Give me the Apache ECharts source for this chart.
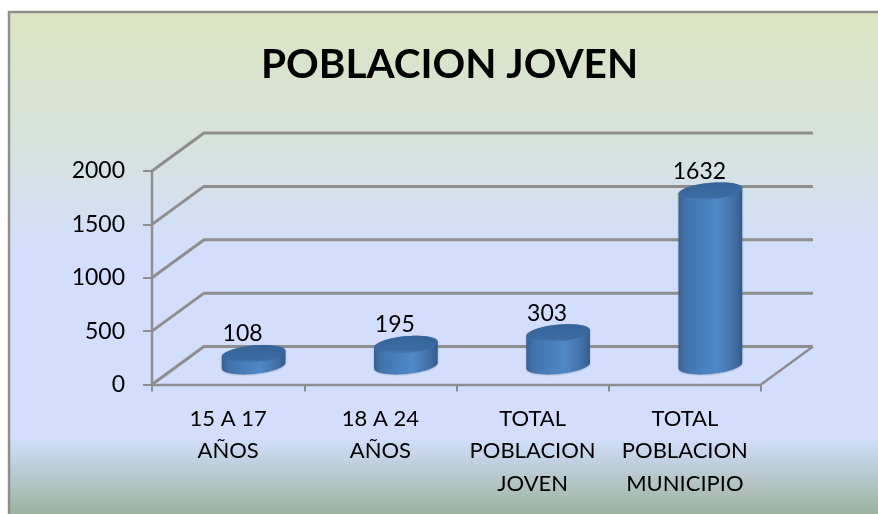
<!DOCTYPE html>
<html>
<head>
<meta charset="utf-8">
<style>html,body{margin:0;padding:0;background:#fff;overflow:hidden}#c{width:878px;height:514px}</style>
<script src="https://cdn.jsdelivr.net/npm/echarts@6/dist/echarts.min.js"></script>
</head>
<body>
<div id="c"></div>
<script>
const titleText = 'POBLACION JOVEN';
const categories = ['15 A 17\nAÑOS', '18 A 24\nAÑOS', 'TOTAL\nPOBLACION\nJOVEN', 'TOTAL\nPOBLACION\nMUNICIPIO'];
const values = [108, 195, 303, 1632];
const yTicks = [0, 500, 1000, 1500, 2000];

const FONT = 'Lato, Carlito, Calibri, sans-serif';
const AXIS = '#8e8e8e';
const DX = 52, DY = -38;       // oblique depth of the 3-D box
const RX = 32, RY = 8.4, TILT = -5.5 * Math.PI / 180;

function ellipsePoint(cx, cy, t) {
  const ca = RX * Math.cos(t), sb = RY * Math.sin(t);
  return [cx + ca * Math.cos(TILT) - sb * Math.sin(TILT),
          cy + ca * Math.sin(TILT) + sb * Math.cos(TILT)];
}
function ellipsePoly(cx, cy) {
  const pts = [];
  for (let i = 0; i < 72; i++) pts.push(ellipsePoint(cx, cy, i / 72 * 2 * Math.PI));
  return pts;
}
function bodyPoly(cx, yTop, yBase) {
  const t0 = Math.atan2(-RY * Math.sin(TILT), RX * Math.cos(TILT));
  const pts = [];
  for (let i = 0; i <= 36; i++) pts.push(ellipsePoint(cx, yBase, t0 + i / 36 * Math.PI));
  for (let i = 0; i <= 36; i++) pts.push(ellipsePoint(cx, yTop, t0 + Math.PI + i / 36 * Math.PI));
  return pts;
}
const bodyFill = {
  type: 'linear', x: 0, y: 0, x2: 1, y2: 0,
  colorStops: [
    { offset: 0, color: '#365f92' },
    { offset: 0.12, color: '#4174ae' },
    { offset: 0.6, color: '#5089c8' },
    { offset: 0.88, color: '#406fa6' },
    { offset: 1, color: '#345b88' }
  ]
};
const topFill = {
  type: 'linear', x: 0, y: 0, x2: 0, y2: 1,
  colorStops: [
    { offset: 0, color: '#36649a' },
    { offset: 0.8, color: '#3a6ba2' },
    { offset: 1, color: '#4a7db8' }
  ]
};

const option = {
  animation: false,
  backgroundColor: '#ffffff',
  graphic: [{
    type: 'rect', silent: true, z: -10,
    shape: { x: 9, y: 12, width: 880, height: 515 },
    style: {
      stroke: AXIS, lineWidth: 2.5,
      fill: {
        type: 'linear', x: 0, y: 0, x2: 0, y2: 1,
        colorStops: [
          { offset: 0, color: '#dbe5c0' },
          { offset: 0.25, color: '#d7e2dc' },
          { offset: 0.47, color: '#d2defc' },
          { offset: 0.825, color: '#d2defc' },
          { offset: 0.975, color: '#9cb29e' },
          { offset: 1, color: '#9cb29e' }
        ]
      }
    }
  }],
  title: {
    text: titleText, left: 256, top: 39,
    textStyle: { fontFamily: FONT, fontWeight: 'bold', fontSize: 40.5, color: '#000' }
  },
  grid: { left: 152, top: 171, width: 609, height: 213.5 },
  xAxis: {
    type: 'category', data: categories,
    axisLine: { lineStyle: { color: AXIS, width: 2.4 } },
    axisTick: { show: true, length: 7, alignWithLabel: false, lineStyle: { color: AXIS, width: 2 } },
    axisLabel: { interval: 0, margin: 18, lineHeight: 32.5, fontFamily: FONT, fontSize: 22, color: '#000' }
  },
  yAxis: {
    type: 'value', min: 0, max: 2000, interval: 500,
    axisLine: { show: true, lineStyle: { color: AXIS, width: 2.4 } },
    axisTick: { show: true, length: 9, lineStyle: { color: AXIS, width: 2 } },
    splitLine: { show: false },
    axisLabel: { margin: 27, fontFamily: FONT, fontSize: 23, color: '#000', formatter: v => String(v) }
  },
  series: [
    {
      type: 'custom', silent: true, z: 1,
      data: yTicks.map(v => [0, v]),
      renderItem(params, api) {
        const band = api.size([1, 0])[0];
        const p = api.coord([0, api.value(1)]);
        const xL = p[0] - band / 2, xR = xL + band * categories.length, y = p[1];
        const style = { stroke: AXIS, lineWidth: 3, lineJoin: 'round', fill: null };
        const children = [{
          type: 'polyline',
          shape: { points: [[xL, y], [xL + DX, y + DY], [xR + DX, y + DY]] },
          style
        }];
        if (api.value(1) === 0) {
          children.push({
            type: 'line',
            shape: { x1: xR, y1: y, x2: xR + DX, y2: y + DY },
            style: { stroke: AXIS, lineWidth: 2.4 }
          });
        }
        return { type: 'group', children };
      }
    },
    {
      type: 'custom', silent: true, z: 3,
      data: values.map((v, i) => [i, v]),
      renderItem(params, api) {
        const top = api.coord([api.value(0), api.value(1)]);
        const base = api.coord([api.value(0), 0]);
        const cx = top[0] + DX / 2 - 0.5;
        const yTop = top[1] + DY / 2, yBase = base[1] + DY / 2;
        return {
          type: 'group',
          children: [
            {
              type: 'polygon', shape: { points: bodyPoly(cx, yTop, yBase) },
              style: { fill: bodyFill, shadowColor: 'rgba(60,60,60,0.35)', shadowBlur: 2, shadowOffsetY: 0.5 }
            },
            { type: 'polygon', shape: { points: ellipsePoly(cx, yTop) }, style: { fill: topFill } },
            {
              type: 'text',
              style: {
                text: String(api.value(1)), x: cx - 11, y: yTop - 20,
                align: 'center', verticalAlign: 'middle',
                font: '23px ' + FONT, fill: '#000'
              }
            }
          ]
        };
      }
    }
  ]
};
echarts.init(document.getElementById('c'), null, { renderer: 'canvas' }).setOption(option);
</script>
</body>
</html>
